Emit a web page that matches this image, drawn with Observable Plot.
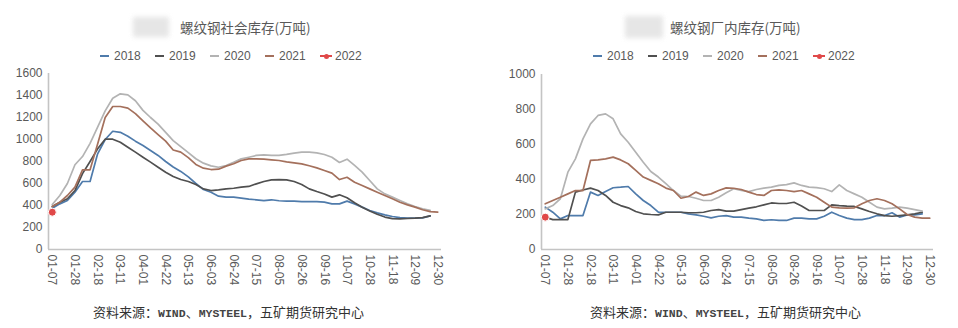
<!DOCTYPE html>
<html>
<head>
<meta charset="utf-8">
<script src="https://cdn.jsdelivr.net/npm/d3@7"></script>
<script src="https://cdn.jsdelivr.net/npm/@observablehq/plot@0.6"></script>
<style>
  html, body { margin: 0; padding: 0; background: #fff; }
  #root { position: relative; width: 958px; height: 328px; overflow: hidden; font-family: "Liberation Sans", Arial, sans-serif; }
  .abs { position: absolute; }
  .title { font-family: "Noto Sans CJK SC", sans-serif; font-size: 13.5px; color: #595959; line-height: 16px; white-space: nowrap; }
  .logo { background: #dcdcdc; filter: blur(2.5px); opacity: 0.7; }
  .legend { display: flex; font-size: 12px; color: #595959; line-height: 14px; }
  .legend .item { width: 55px; display: flex; align-items: center; }
  .legend .sw { width: 9px; height: 2px; margin-right: 5px; position: relative; }
  .legend .dotsw { width: 12px; height: 2px; margin-right: 3px; position: relative; }
  .legend .dotsw i { position: absolute; left: 3.5px; top: -1.5px; width: 5px; height: 5px; border-radius: 50%; }
  .caption { font-family: "Noto Sans CJK SC", sans-serif; font-size: 13px; color: #333; white-space: nowrap; line-height: 16px; }
  .caption .lat { font-family: "Liberation Mono", monospace; font-size: 11.5px; font-weight: 600; color: #444; }
  svg { overflow: visible; }
</style>
</head>
<body>
<div id="root"></div>
<script>
// Weekly categories (x axis)
const weeks = ["01-07","01-14","01-21","01-28","02-04","02-11","02-18","02-25","03-04","03-11","03-18","03-25","04-01","04-08","04-15","04-22","04-29","05-06","05-13","05-20","05-27","06-03","06-10","06-17","06-24","07-01","07-08","07-15","07-22","07-29","08-05","08-12","08-19","08-26","09-02","09-09","09-16","09-23","09-30","10-07","10-14","10-21","10-28","11-04","11-11","11-18","11-25","12-02","12-09","12-16","12-23","12-30"];
const tickLabels = ["01-07","01-28","02-18","03-11","04-01","04-22","05-13","06-03","06-24","07-15","08-05","08-26","09-16","10-07","10-28","11-18","12-09","12-30"];
const years = ["2018","2019","2020","2021","2022"];
const colors = ["#4f7bab","#505050","#b3b3b3","#a4705c","#e04848"];

// Left: 螺纹钢社会库存 (万吨)
const soc2018 = [375,415,445,521,618,618,870,1000,1075,1065,1030,985,945,900,855,800,750,710,660,600,545,520,485,476,476,467,458,452,445,452,443,440,440,436,436,436,430,415,415,440,415,385,355,333,315,300,290,285,285,288,305];
const soc2019 = [390,430,461,536,690,800,915,1003,1003,975,930,885,839,794,748,703,664,636,618,591,551,536,542,551,557,567,573,597,618,633,636,633,618,591,551,527,505,476,497,470,425,385,350,320,295,280,278,282,285,290,305];
const soc2020 = [409,491,600,770,845,965,1112,1260,1375,1415,1405,1352,1265,1200,1140,1065,990,935,880,825,785,760,748,764,794,824,839,855,861,855,855,864,876,885,885,879,864,839,791,821,764,703,627,551,506,476,445,415,391,370,355];
const soc2021 = [390,430,491,567,724,724,960,1200,1300,1300,1285,1235,1170,1105,1045,985,905,885,835,773,739,727,730,758,779,809,824,824,821,815,809,797,788,779,761,742,718,694,636,657,612,582,551,521,491,461,430,406,385,361,345,340];
const soc2022 = [339];
const socTicks = [0,200,400,600,800,1000,1200,1400,1600];

// Right: 螺纹钢厂内库存 (万吨)
const fac2018 = [242,213,175,194,194,194,328,309,332,353,356,360,318,280,251,213,213,213,213,204,198,190,181,190,194,185,185,179,175,166,170,166,166,179,179,175,175,190,213,194,179,171,171,179,194,194,210,185,198,198,204];
const fac2019 = [185,171,171,171,328,340,351,337,309,270,251,238,217,204,200,198,213,213,213,210,210,213,223,228,219,219,228,236,244,255,266,263,263,270,248,223,223,223,255,251,248,246,232,217,204,194,190,194,198,204,213];
const fac2020 = [232,251,290,442,518,632,718,766,775,747,661,613,556,499,446,414,376,337,305,303,293,280,280,299,324,347,337,331,343,351,356,366,371,381,366,356,354,347,331,369,337,318,299,270,242,232,236,242,236,228,219];
const fac2021 = [261,280,299,318,337,337,509,512,518,528,512,490,452,414,395,376,351,337,293,303,328,309,318,337,352,350,343,328,314,309,337,341,337,331,337,318,299,270,242,238,236,238,261,280,290,280,261,232,200,185,179,179];
const fac2022 = [185];
const facTicks = [0,200,400,600,800,1000];

const root = document.getElementById("root");

function el(tag, cls, style, html) {
  const e = document.createElement(tag);
  if (cls) e.className = cls;
  if (style) Object.assign(e.style, style);
  if (html != null) e.innerHTML = html;
  return e;
}

function toRows(seriesList) {
  const rows = [];
  seriesList.forEach((vals, k) => vals.forEach((v, i) => rows.push({i, value: v, year: years[k]})));
  return rows;
}

function makeChart({series, yMax, yTicks, marginLeft, marginRight, marginTop}) {
  const lines = toRows(series.slice(0, 4));
  const dots = toRows([[], [], [], [], series[4]]);
  return Plot.plot({
    width: 479,
    height: 230,
    marginLeft, marginRight, marginTop,
    marginBottom: 45,
    style: {fontFamily: "'Liberation Sans', Arial, sans-serif", fontSize: "12px", color: "#595959", background: "transparent"},
    x: {domain: [-0.5, weeks.length - 0.5]},
    y: {domain: [0, yMax]},
    color: {domain: years, range: colors},
    marks: [
      Plot.axisY({ticks: yTicks, tickFormat: d => String(d), tickSize: 0, tickPadding: 6, label: null, fill: "#595959", fontSize: 12}),
      Plot.axisX({ticks: tickLabels.map(t => weeks.indexOf(t)), tickFormat: i => weeks[i], tickSize: 0, tickPadding: 5, tickRotate: 90, label: null, fill: "#595959", fontSize: 12}),
      Plot.ruleY([0], {stroke: "#c4c4c4", strokeWidth: 1.6}),
      Plot.ruleX([-0.5], {y1: 0, y2: yMax, stroke: "#c4c4c4", strokeWidth: 1.6}),
      Plot.line(lines, {x: "i", y: "value", z: "year", stroke: "year", strokeWidth: 1.7, strokeLinejoin: "round"}),
      Plot.dot(dots, {x: "i", y: "value", r: 4, fill: "year", stroke: "white", strokeWidth: 1})
    ]
  });
}

function legend(left) {
  const lg = el("div", "abs legend", {left: left + "px", top: "49px"});
  years.forEach((y, k) => {
    const item = el("div", "item");
    if (y === "2022") {
      const sw = el("span", "dotsw", {background: colors[k]});
      const d = el("i", null, {background: colors[k]});
      sw.appendChild(d);
      item.appendChild(sw);
    } else {
      item.appendChild(el("span", "sw", {background: colors[k]}));
    }
    item.appendChild(el("span", null, null, y));
    lg.appendChild(item);
  });
  return lg;
}

// Left panel
root.appendChild(el("div", "abs logo", {left: "133px", top: "17px", width: "36px", height: "20px"}));
root.appendChild(el("div", "abs title", {left: "180px", top: "19px"}, "螺纹钢社会库存(万吨)"));
root.appendChild(legend(100));
const c1 = makeChart({series: [soc2018, soc2019, soc2020, soc2021, soc2022], yMax: 1600, yTicks: socTicks, marginLeft: 48, marginRight: 38, marginTop: 9});
c1.style.position = "absolute"; c1.style.left = "0px"; c1.style.top = "64px";
root.appendChild(c1);
root.appendChild(el("div", "abs caption", {left: "93px", top: "304px"}, '资料来源：<span class="lat">WIND</span>、<span class="lat">MYSTEEL</span>，五矿期货研究中心'));

// Right panel
root.appendChild(el("div", "abs logo", {left: "625px", top: "16px", width: "38px", height: "22px"}));
root.appendChild(el("div", "abs title", {left: "670px", top: "19px"}, "螺纹钢厂内库存(万吨)"));
root.appendChild(legend(593));
const c2 = makeChart({series: [fac2018, fac2019, fac2020, fac2021, fac2022], yMax: 1000, yTicks: facTicks, marginLeft: 62, marginRight: 25, marginTop: 10});
c2.style.position = "absolute"; c2.style.left = "479px"; c2.style.top = "64px";
root.appendChild(c2);
root.appendChild(el("div", "abs caption", {left: "590px", top: "304px"}, '资料来源：<span class="lat">WIND</span>、<span class="lat">MYSTEEL</span>，五矿期货研究中心'));
</script>
</body>
</html>
